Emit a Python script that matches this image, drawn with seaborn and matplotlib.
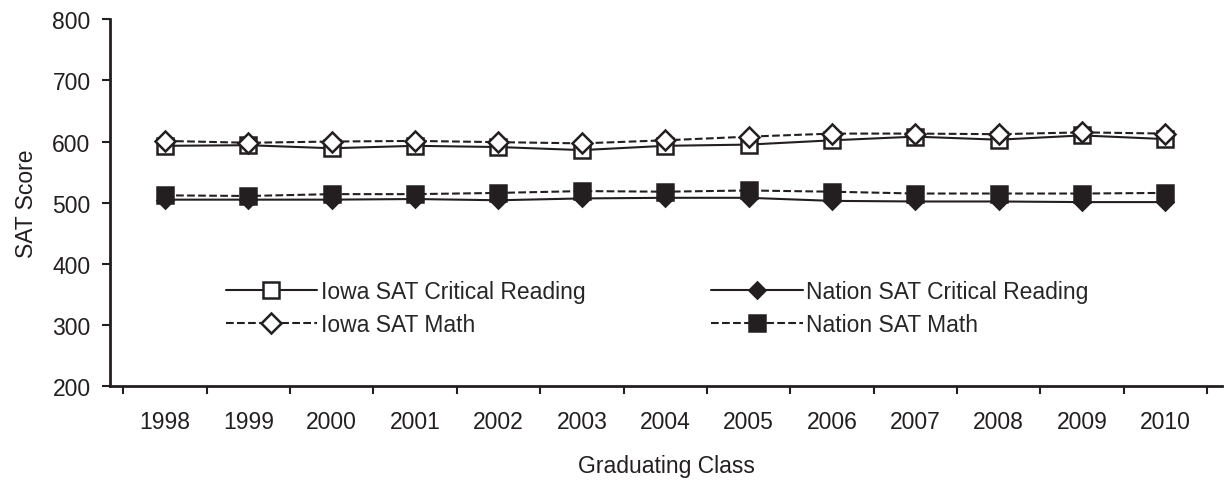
import matplotlib.pyplot as plt
import seaborn as sns
import pandas as pd

sns.set_style("ticks")
plt.rcParams["font.family"] = ["Liberation Sans", "DejaVu Sans"]

years = ["1998", "1999", "2000", "2001", "2002", "2003", "2004",
         "2005", "2006", "2007", "2008", "2009", "2010"]
iowa_reading = [593, 594, 589, 593, 591, 586, 593, 595, 602, 608, 603, 610, 604]
nation_reading = [505, 505, 505, 506, 504, 507, 508, 508, 503, 502, 502, 501, 501]
iowa_math = [601, 598, 600, 601, 599, 597, 602, 608, 613, 613, 612, 615, 613]
nation_math = [512, 511, 514, 514, 516, 519, 518, 520, 518, 515, 515, 515, 516]

ink = "#231f20"
fs = 16.5

df = pd.DataFrame({
    "pos": range(len(years)),
    "iowa_reading": iowa_reading,
    "nation_reading": nation_reading,
    "iowa_math": iowa_math,
    "nation_math": nation_math,
})

fig = plt.figure(figsize=(12.25, 4.81), dpi=100)
ax = fig.add_axes([0.0898, 0.195, 0.9078, 0.763])

series = [
    ("iowa_reading", "Iowa SAT Critical Reading", "s", "white", "-", 11),
    ("nation_reading", "Nation SAT Critical Reading", "D", ink, "-", 8),
    ("iowa_math", "Iowa SAT Math", "D", "white", "--", 10),
    ("nation_math", "Nation SAT Math", "s", ink, "--", 12),
]

for col, label, marker, face, ls, ms in series:
    sns.lineplot(
        x="pos",
        y=col,
        data=df,
        ax=ax,
        color=ink,
        linestyle=ls,
        linewidth=1.5,
        marker=marker,
        markersize=ms,
        markerfacecolor=face,
        markeredgecolor=ink,
        markeredgewidth=1.8,
        label=label,
    )

ax.set_ylim(200, 800)
ax.set_yticks(range(200, 801, 100))
ax.set_xlim(-0.66, 12.68)
ax.set_xticks([p for p in range(len(years))])
ax.set_xticklabels(years)
ax.set_xticks([p + 0.5 for p in range(-1, len(years))], minor=True)
ax.tick_params(axis="x", which="major", length=0, pad=17, labelsize=fs, colors=ink)
ax.tick_params(axis="x", which="minor", length=6, width=1.5, color=ink)
ax.tick_params(axis="y", length=6, width=1.5, pad=8, labelsize=fs, colors=ink)

for side in ["top", "right"]:
    ax.spines[side].set_visible(False)
for side in ["left", "bottom"]:
    ax.spines[side].set_linewidth(2)
    ax.spines[side].set_color(ink)

ax.set_xlabel("Graduating Class", fontsize=fs, color=ink, labelpad=15)
ax.set_ylabel("SAT Score", fontsize=fs, color=ink, labelpad=10)

h, l = ax.get_legend_handles_labels()
order = [0, 2, 1, 3]
ax.legend(
    [h[i] for i in order],
    [l[i] for i in order],
    ncol=2,
    frameon=False,
    fontsize=fs,
    handlelength=4,
    handletextpad=0.15,
    columnspacing=5.5,
    labelspacing=0.45,
    loc="center",
    bbox_to_anchor=(0.492, 0.213),
)

plt.savefig("out.png", dpi=100)
plt.close()
